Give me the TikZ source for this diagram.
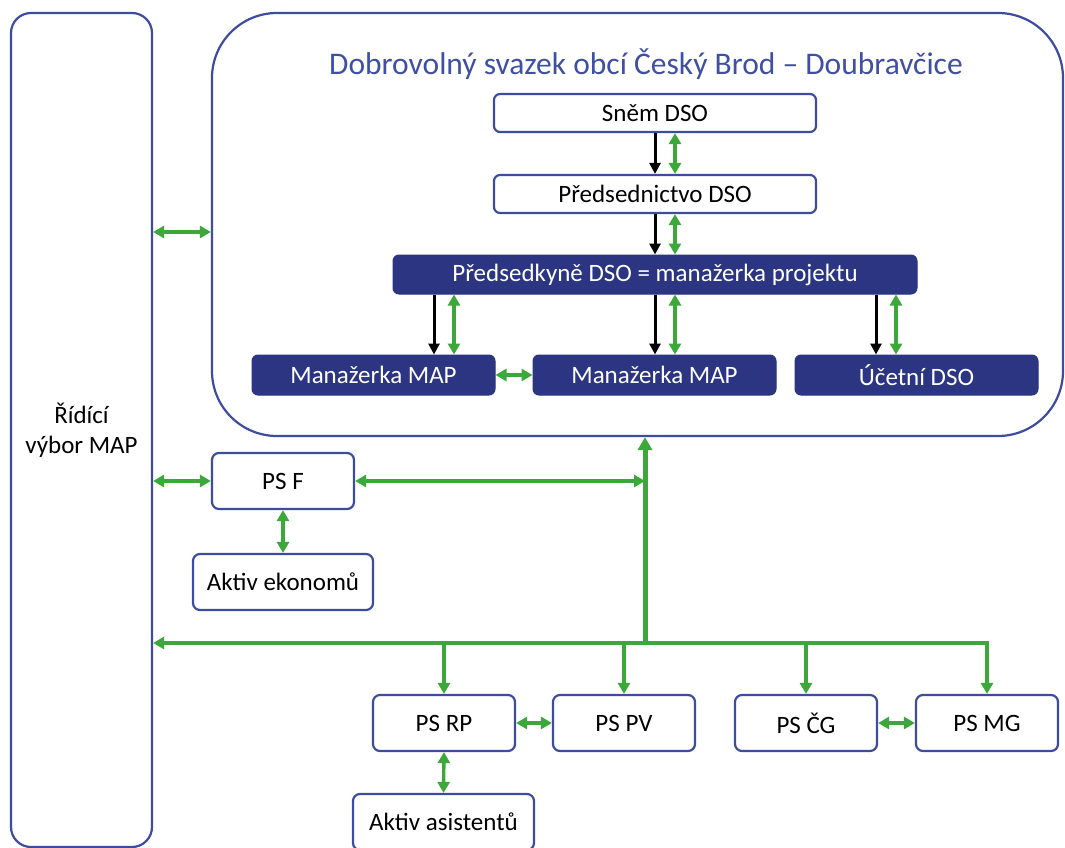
\documentclass[tikz,border=0pt]{standalone}
\usepackage{fontspec}
\setmainfont{Carlito}
\usetikzlibrary{arrows.meta,calc}
\definecolor{navy}{HTML}{2B3581}
\definecolor{edgeblue}{HTML}{3D4C9E}
\definecolor{gr}{HTML}{3DA83A}
\definecolor{titleblue}{HTML}{3F4FA3}
\tikzset{
  wbox/.style={draw=edgeblue, line width=2.2pt, fill=white, rounded corners=7pt, inner sep=0pt, text=black, font=\fontsize{25}{30}\selectfont},
  dbox/.style={draw=navy, line width=1pt, fill=navy, rounded corners=6pt, inner sep=0pt, text=white, font=\fontsize{25}{30}\selectfont},
  gtip/.tip={Triangle[length=11pt,width=12pt]},
  btip/.tip={Triangle[length=11pt,width=11pt]},
  gboth/.style={draw=gr, line width=3.4pt, {gtip}-{gtip}},
  gone/.style={draw=gr, line width=3.4pt, -{gtip}},
  gtrunk/.style={draw=gr, line width=5pt, -{Triangle[length=13pt,width=14pt]}},
  bone/.style={draw=black, line width=3pt, -{btip}}
}
\begin{document}
\begin{tikzpicture}[x=1pt,y=-1pt]
\useasboundingbox (0,0) rectangle (1065,848);
\fill[white] (0,0) rectangle (1065,848);

% big containers
\node[wbox, rounded corners=20pt, minimum width=141pt, minimum height=834pt, align=center] (left) at (81.5,430) {Řídící\\výbor MAP};
\node[wbox, rounded corners=65pt, minimum width=851pt, minimum height=423pt] (big) at (637.5,224.5) {};
\node[text=titleblue, font=\fontsize{31.5}{36}\selectfont, inner sep=0pt] (title) at (646,64) {Dobrovolný svazek obcí Český Brod – Doubravčice};

% DSO inner boxes
\node[wbox, rounded corners=6pt, minimum width=322pt, minimum height=38pt] (snem) at (655,113) {Sněm DSO};
\node[wbox, rounded corners=6pt, minimum width=322pt, minimum height=38pt] (pred) at (655,194) {Předsednictvo DSO};
\node[dbox, minimum width=524pt, minimum height=39pt] (predk) at (655,274.5) {Předsedkyně DSO = manažerka projektu};
\node[dbox, minimum width=243pt, minimum height=40pt] (man1) at (373.5,375) {Manažerka MAP};
\node[dbox, minimum width=243pt, minimum height=40pt] (man2) at (654.5,375) {Manažerka MAP};
\node[dbox, minimum width=243pt, minimum height=40pt] (ucet) at (916.5,375) {Účetní DSO};

% working groups
\node[wbox, minimum width=142pt, minimum height=56pt] (psf) at (283,481) {PS F};
\node[wbox, minimum width=180pt, minimum height=56pt] (akek) at (283,582) {Aktiv ekonomů};
\node[wbox, minimum width=142pt, minimum height=56pt] (psrp) at (444,723) {PS RP};
\node[wbox, minimum width=142pt, minimum height=56pt] (pspv) at (624,723) {PS PV};
\node[wbox, minimum width=142pt, minimum height=56pt] (pscg) at (806,723) {PS ČG};
\node[wbox, minimum width=142pt, minimum height=56pt] (psmg) at (987,723) {PS MG};
\node[wbox, minimum width=181pt, minimum height=56pt] (akas) at (443.5,822) {Aktiv asistentů};

% DSO internal arrows
\draw[bone] (snem.south) -- (pred.north);
\draw[gboth] ([xshift=20pt]snem.south) -- ([xshift=20pt]pred.north);
\draw[bone] (pred.south) -- (predk.north);
\draw[gboth] ([xshift=20pt]pred.south) -- ([xshift=20pt]predk.north);
\draw[bone] ([xshift=60.5pt]man1.north |- predk.south) -- ([xshift=60.5pt]man1.north);
\draw[gboth] ([xshift=80.5pt]man1.north |- predk.south) -- ([xshift=80.5pt]man1.north);
\draw[bone] ([xshift=0.5pt]man2.north |- predk.south) -- ([xshift=0.5pt]man2.north);
\draw[gboth] ([xshift=20.5pt]man2.north |- predk.south) -- ([xshift=20.5pt]man2.north);
\draw[bone] ([xshift=-40.5pt]ucet.north |- predk.south) -- ([xshift=-40.5pt]ucet.north);
\draw[gboth] ([xshift=-20.5pt]ucet.north |- predk.south) -- ([xshift=-20.5pt]ucet.north);
\draw[gboth] (man1.east) -- (man2.west);

% left committee links
\coordinate (lk) at (0,232);
\draw[gboth] (left.east |- lk) -- (big.west |- lk);
\draw[gboth] (left.east |- psf.west) -- (psf.west);
\draw[gboth] (psf.south) -- (akek.north);

% trunk and bus
\coordinate (bus) at (645,643);
\draw[gtrunk] (bus) -- (bus |- big.south);
\draw[gboth] (psf.east) -- (psf.east -| bus);
\draw[gone] (bus) -- (bus -| left.east);
\draw[gone] (bus) -| (psmg.north);
\draw[gone] (psrp.north |- bus) -- (psrp.north);
\draw[gone] (pspv.north |- bus) -- (pspv.north);
\draw[gone] (pscg.north |- bus) -- (pscg.north);
\draw[gboth] (psrp.east) -- (pspv.west);
\draw[gboth] (pscg.east) -- (psmg.west);
\draw[gboth] (psrp.south) -- (akas.north);
\end{tikzpicture}
\end{document}
